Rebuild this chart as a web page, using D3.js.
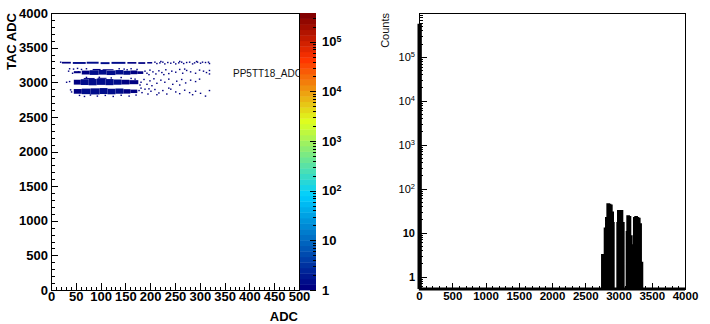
<!DOCTYPE html>
<html lang="en">
<head>
<meta charset="utf-8">
<title>PP5TT18_ADC</title>
<script src="https://d3js.org/d3.v7.min.js"></script>
<style>
  body { margin: 0; background: #fff; }
  svg { display: block; font-family: 'Liberation Sans', Arial, Helvetica, sans-serif; }
  .domain { display: none; }
  .tick line { stroke: #000; shape-rendering: crispEdges; }
  .tick text { fill: #000; }
  .bold text { font-size: 13px; font-weight: bold; }
</style>
</head>
<body>
<div id="chart"></div>
<script>
// ---------- data ----------
// left: 2D map TAC vs ADC, dense blocks [adc0, adc1, tac0, tac1, counts]
const denseBlocks = [
  // band ~3280
  [22, 40, 3270, 3295, 1], [44, 70, 3265, 3292, 1.5], [72, 96, 3268, 3296, 1.5], [100, 118, 3262, 3290, 1.5],
  [122, 150, 3266, 3294, 1.5], [154, 172, 3268, 3292, 1], [176, 190, 3265, 3290, 1], [194, 204, 3270, 3292, 1],
  // band ~3140
  [46, 60, 3130, 3160, 1], [62, 78, 3112, 3168, 1], [78, 96, 3106, 3174, 1.5], [96, 112, 3110, 3178, 1.5],
  [112, 130, 3104, 3170, 1.5], [130, 146, 3112, 3176, 1.5], [146, 160, 3108, 3166, 1.5], [160, 174, 3116, 3170, 1],
  [174, 186, 3120, 3158, 1], [84, 100, 3176, 3192, 1], [104, 126, 3174, 3188, 1],
  // band ~3000
  [46, 60, 2966, 3036, 1], [60, 76, 2960, 3044, 1.5], [76, 92, 2956, 3048, 1.5], [92, 110, 2962, 3052, 1.5],
  [110, 126, 2958, 3046, 1.5], [126, 142, 2964, 3040, 1.5], [142, 158, 2968, 3036, 1], [158, 176, 2972, 3030, 1],
  [66, 88, 3048, 3062, 1], [94, 112, 3050, 3064, 1],
  // band ~2860
  [46, 62, 2834, 2902, 1], [62, 80, 2828, 2908, 1.5], [80, 98, 2824, 2912, 1.5], [98, 114, 2830, 2916, 1.5],
  [114, 130, 2826, 2906, 1.5], [130, 146, 2834, 2910, 1.5], [146, 160, 2836, 2900, 1], [160, 174, 2844, 2894, 1]
];
// isolated single-count cells [adc, tac]
const sparseCells = [
  [18,3290],[208,3290],[212,3270],[218,3280],[224,3290],[228,3265],[234,3285],[240,3275],
  [246,3290],[250,3265],[256,3280],[262,3290],[266,3270],[272,3285],[278,3290],[284,3265],[288,3280],
  [294,3290],[300,3275],[304,3290],[310,3285],[316,3290],[318,3270],[220,3300],[258,3300],[292,3300],
  [36,3195],[44,3190],[52,3200],[60,3185],[70,3195],[136,3195],[146,3190],[160,3195],[172,3185],[152,3180],
  [188,3160],[192,3130],[198,3175],[204,3150],[210,3120],[216,3165],[222,3140],[230,3180],[236,3125],
  [242,3160],[250,3145],[258,3185],[264,3130],[272,3170],[280,3150],[290,3130],[298,3175],[306,3160],
  [312,3140],[318,3170],[34,3160],[42,3130],[54,3150],[196,3110],[226,3110],[268,3190],[318,3120],
  [180,3000],[186,3040],[192,2970],[198,3020],[206,3050],[212,2985],[220,3030],[228,3000],[236,3045],
  [244,2970],[252,3015],[262,3040],[270,2990],[280,3030],[290,3010],[298,3045],[30,3000],[36,3010],
  [70,3070],[96,3072],[120,3062],[140,3068],[160,3055],[168,3045],[178,2960],[202,2950],[258,2960],
  [176,2880],[182,2850],[188,2900],[194,2830],[200,2870],[208,2895],[216,2845],[224,2880],[232,2830],
  [240,2900],[250,2860],[258,2835],[268,2885],[278,2850],[290,2870],[300,2840],[310,2800],[318,2880],
  [56,2810],[66,2795],[78,2815],[92,2800],[108,2810],[124,2795],[140,2812],[156,2800],[170,2815],
  [180,2915],[196,2905],[212,2820],[236,2915],[284,2820],[40,2860],[38,2890]
];
const histLabel = "PP5TT18_ADC";

// right: TAC projection (counts per bin)
const pedestalBin = [0, 20];
const pedestalCount = 5.2e5;
const tacBinLow = [2760,2770,2780,2790,2800,2810,2820,2830,2840,2850,2860,2870,2880,2890,2900,
                   2910,2920,2930,2940,2950,2960,2970,2980,2990,3000,3010,3020,3030,3040,3050,
                   3060,3070,3080,3090,3100,3110,3120,3130,3140,3150,3160,3170,3180,3190,3200,
                   3210,3220,3230,3240,3250,3260,3270,3280,3290,3300,3310,3320,3330,3340,3350];
const tacCounts = [3,0,3,0,12,0,21,2,43,0,42,3,40,0,28,
                   16,0,0,0,0,0,0,0,16,30,2,29,0,30,1,
                   16,0,0,0,0,0,0,10,23,1,22,0,8,0,4,
                   0,5,0,21,2,22,0,21,1,20,0,15,0,2,0];
const tacBinWidth = 10;

// axis ticks
const adcTicks = [0,50,100,150,200,250,300,350,400,450,500];
const tacTicks = [0,500,1000,1500,2000,2500,3000,3500,4000];
const tacTicks2 = [0,500,1000,1500,2000,2500,3000,3500,4000];
const decades = [1,10,100,1000,10000,100000];

// ---------- palette (ROOT pretty palette, 50 levels) ----------
const palStops = [0, 0.34, 0.61, 0.84, 1];
const palR = [0, 0, 0.87, 1, 0.51], palG = [0, 0.81, 1, 0.2, 0], palB = [0.51, 1, 0.12, 0, 0];
const palInterp = d3.scaleLinear().domain(palStops)
  .range(palStops.map((s, i) => d3.rgb(palR[i] * 255, palG[i] * 255, palB[i] * 255).toString()));
const nCol = 50;
const palette = d3.range(nCol).map(i => palInterp(i / (nCol - 1)));
const zMax = 3.8e5;
const colorFor = z => palette[Math.min(nCol - 1, Math.floor(Math.log10(z) / Math.log10(zMax) * nCol))];

const svg = d3.select("#chart").append("svg").attr("width", 710).attr("height", 324);

function minorsOf(dec) {
  const out = [];
  dec.forEach(d => [2,3,4,5,6,7,8,9].forEach(m => out.push(d * m)));
  return out;
}
function powText(sel) {
  sel.each(function(d) {
    const t = d3.select(this).text("");
    const e = Math.round(Math.log10(d));
    if (e === 0) { t.text("1"); return; }
    if (e === 1) { t.text("10"); return; }
    t.append("tspan").text("10");
    t.append("tspan").attr("dy", "-0.45em").style("font-size", "68%").text(e);
  });
}

// ---------- left panel ----------
const x = d3.scaleLinear().domain([0, 500]).range([51, 299]);
const y = d3.scaleLinear().domain([0, 4000]).range([290, 13]);

const cells = svg.append("g");
cells.selectAll("rect.dense").data(denseBlocks).join("rect")
  .attr("class", "dense")
  .attr("x", d => x(d[0])).attr("width", d => x(d[1]) - x(d[0]))
  .attr("y", d => y(d[3])).attr("height", d => y(d[2]) - y(d[3]))
  .attr("fill", d => colorFor(d[4]));
cells.selectAll("rect.sparse").data(sparseCells).join("rect")
  .attr("class", "sparse")
  .attr("x", d => x(d[0])).attr("width", x(3) - x(0))
  .attr("y", d => y(d[1] + 10)).attr("height", y(0) - y(20))
  .attr("fill", colorFor(1));

svg.append("text").attr("x", 233).attr("y", 77)
  .style("font-size", "10px").attr("fill", "#111").text(histLabel);

svg.append("rect").attr("x", 51).attr("y", 13).attr("width", 248).attr("height", 277)
  .attr("fill", "none").attr("stroke", "#000").attr("shape-rendering", "crispEdges");

svg.append("g").attr("class", "bold").attr("transform", "translate(51,0)")
  .call(d3.axisLeft(y).tickValues(tacTicks).tickSize(-7).tickPadding(3).tickFormat(d3.format("d")));
svg.append("g").attr("transform", "translate(51,0)")
  .call(d3.axisLeft(y).tickValues(d3.range(0, 4001, 100)).tickSize(-3.5).tickFormat(""));
svg.append("g").attr("class", "bold").attr("transform", "translate(0,290)")
  .call(d3.axisBottom(x).tickValues(adcTicks).tickSize(-7).tickPadding(2).tickFormat(d3.format("d")));
svg.append("g").attr("transform", "translate(0,290)")
  .call(d3.axisBottom(x).tickValues(d3.range(0, 501, 10)).tickSize(-3.5).tickFormat(""));

svg.append("text").attr("transform", "translate(15.5,13) rotate(-90)")
  .attr("text-anchor", "end").style("font-size", "13px").style("font-weight", "bold").text("TAC ADC");
svg.append("text").attr("x", 298).attr("y", 320.5)
  .attr("text-anchor", "end").style("font-size", "13px").style("font-weight", "bold").text("ADC");

// colour bar
const z = d3.scaleLog().domain([1, zMax]).range([290, 13]);
const barY = d3.scaleLinear().domain([0, nCol]).range([290, 13]);
svg.append("g").selectAll("rect").data(palette).join("rect")
  .attr("x", 300).attr("width", 16)
  .attr("y", (d, i) => barY(i + 1)).attr("height", (d, i) => barY(i) - barY(i + 1) + 0.4)
  .attr("fill", d => d);
const zAx = svg.append("g").attr("class", "bold").attr("transform", "translate(316,0)")
  .call(d3.axisRight(z).tickValues(decades).tickSize(-6).tickPadding(6));
zAx.selectAll(".tick text").call(powText);
svg.append("g").attr("transform", "translate(316,0)")
  .call(d3.axisRight(z).tickValues(minorsOf(decades).filter(v => v < zMax)).tickSize(-3).tickFormat(""));

// ---------- right panel ----------
const x2 = d3.scaleLinear().domain([0, 4000]).range([419, 685]);
const y2 = d3.scaleLog().domain([0.52, 9.9e5]).range([289, 13]);
const yv = v => v > 0 ? y2(v) : y2.range()[0];

const bins = [{x0: pedestalBin[0], x1: pedestalBin[1], v: pedestalCount},
              {x0: pedestalBin[1], x1: tacBinLow[0], v: 0}];
tacBinLow.forEach((lo, i) => bins.push({x0: lo, x1: lo + tacBinWidth, v: tacCounts[i]}));
bins.push({x0: tacBinLow[tacBinLow.length - 1] + tacBinWidth, x1: 4000, v: 0});
const pts = [[0, 0]];
bins.forEach(b => { pts.push([b.x0, b.v]); pts.push([b.x1, b.v]); });
pts.push([4000, 0]);

svg.append("rect").attr("x", 419).attr("y", 13).attr("width", 266).attr("height", 276)
  .attr("fill", "none").attr("stroke", "#000").attr("shape-rendering", "crispEdges");

svg.append("path").datum(pts)
  .attr("d", d3.line().x(d => x2(d[0])).y(d => yv(d[1])))
  .attr("fill", "none").attr("stroke", "#000").attr("stroke-width", 3).attr("stroke-linejoin", "miter");

const yAx2 = svg.append("g").attr("transform", "translate(419,0)")
  .call(d3.axisLeft(y2).tickValues(decades).tickSize(-8).tickPadding(4));
yAx2.selectAll(".tick text").style("font-size", "11px")
  .style("font-weight", d => d < 100 ? "bold" : "normal").call(powText);
svg.append("g").attr("transform", "translate(419,0)")
  .call(d3.axisLeft(y2).tickValues(minorsOf([0.1].concat(decades)).filter(v => v > 0.52 && v < 9.9e5)).tickSize(-4).tickFormat(""));

svg.append("g").attr("transform", "translate(0,289)")
  .call(d3.axisBottom(x2).tickValues(tacTicks2).tickSize(-6).tickPadding(3).tickFormat(d3.format("d")))
  .selectAll(".tick text").style("font-size", "11.5px").style("font-weight", "bold");
svg.append("g").attr("transform", "translate(0,289)")
  .call(d3.axisBottom(x2).tickValues(d3.range(0, 4001, 100)).tickSize(-3).tickFormat(""));

svg.append("text").attr("transform", "translate(389,13) rotate(-90)")
  .attr("text-anchor", "end").style("font-size", "11px").attr("fill", "#111").text("Counts");
</script>
</body>
</html>
